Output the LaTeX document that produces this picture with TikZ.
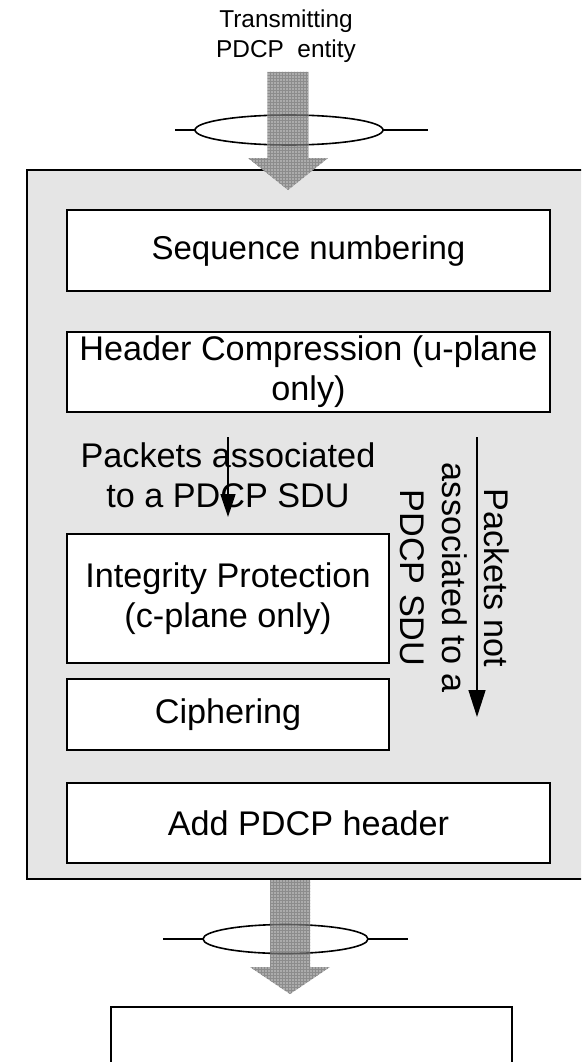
\documentclass[tikz,border=0pt]{standalone}
\usepackage{fontspec}
\setmainfont{Liberation Sans}
\usetikzlibrary{arrows.meta,patterns}
\definecolor{panel}{RGB}{229,229,229}
\definecolor{fatgray}{RGB}{172,172,172}
\definecolor{hatch}{RGB}{140,140,140}
\begin{document}
\begin{tikzpicture}[x=1pt,y=-1pt,
  stage/.style={draw=black, line width=1.6pt, fill=white, inner sep=0pt, outer sep=0pt,
    font=\fontsize{34.2}{40}\selectfont, align=center},
  lbl/.style={font=\fontsize{34.2}{40}\selectfont, align=center, inner sep=0pt},
  flow/.style={line width=1.5pt},
  fat/.style={fill=fatgray, draw=none},
  fatgrid/.style={pattern=grid, pattern color=hatch},
  sap/.style={line width=1.6pt}
]
\useasboundingbox (0,0) rectangle (581,1062);
\clip (0,0) rectangle (581,1062);

% entity title
\node[font=\fontsize{24.4}{30}\selectfont, align=center, inner sep=0pt] (src)
  at (286,36) {Transmitting\\PDCP\ \ entity};

% upper service access point
\coordinate (sapAl) at (175,130);
\coordinate (sapAr) at (428,130);
\draw[sap] (sapAl) -- (195,130) (383,130) -- (sapAr);
\draw[sap] (289,130) ellipse [x radius=94, y radius=15];

% PDCP entity panel
\draw[fill=panel, line width=1.4pt] (27,170) rectangle (600,879);

% incoming fat arrow
\path[fat] (267.5,72) -- (308.5,72) -- (308.5,158) -- (328,158) -- (288,190)
  -- (248,158) -- (267.5,158) -- cycle;
\path[fatgrid] (267.5,72) -- (308.5,72) -- (308.5,158) -- (328,158) -- (288,190)
  -- (248,158) -- (267.5,158) -- cycle;
\begin{scope}
  \clip (267.5,72) rectangle (308.5,158);
  \draw[sap, draw=black!65] (289,130) ellipse [x radius=94, y radius=15];
\end{scope}

% processing stages
\node[stage, minimum width=483, minimum height=81, font=\fontsize{33}{40}\selectfont] (seq)
  at (308.5,250.5) {Sequence numbering};
\node[stage, minimum width=483, minimum height=80] (hc) at (308.5,372) {Header Compression (u-plane\\only)};
\node[stage, minimum width=322, minimum height=129] (ip) at (228,598.5) {Integrity Protection\\(c-plane only)};
\node[stage, minimum width=322, minimum height=71] (ciph) at (228,714.5) {Ciphering};
\node[stage, minimum width=483, minimum height=80] (hdr) at (308.5,823) {Add PDCP header};

% packet paths
\node[lbl] (lin) at (228,475) {Packets associated\\to a PDCP SDU};
\node[lbl, rotate=-90, font=\fontsize{34.2}{42}\selectfont] (lout) at (455,578)
  {Packets not\\associated to a\\PDCP SDU};
\coordinate (inS) at (228,437);
\coordinate (inE) at (228,517);
\coordinate (outS) at (477,437);
\coordinate (outE) at (477,717);
\draw[flow, -{Triangle[length=23pt,width=15pt]}] (inS) -- (inE);
\draw[flow, -{Triangle[length=27pt,width=17pt]}] (outS) -- (outE);

% lower service access point
\coordinate (sapBl) at (163,939);
\coordinate (sapBr) at (408,939);
\draw[sap] (sapBl) -- (203,939) (368,939) -- (sapBr);
\draw[sap] (285.5,939) ellipse [x radius=82.5, y radius=14.5];

% outgoing fat arrow
\path[fat] (270,880) -- (310,880) -- (310,967) -- (330,967) -- (290,994)
  -- (250,967) -- (270,967) -- cycle;
\path[fatgrid] (270,880) -- (310,880) -- (310,967) -- (330,967) -- (290,994)
  -- (250,967) -- (270,967) -- cycle;
\begin{scope}
  \clip (270,880) rectangle (310,967);
  \draw[sap, draw=black!65] (285.5,939) ellipse [x radius=82.5, y radius=14.5];
\end{scope}

% lower layer entity
\draw[line width=1.6pt] (111,1007) rectangle (512,1090);
\end{tikzpicture}
\end{document}
